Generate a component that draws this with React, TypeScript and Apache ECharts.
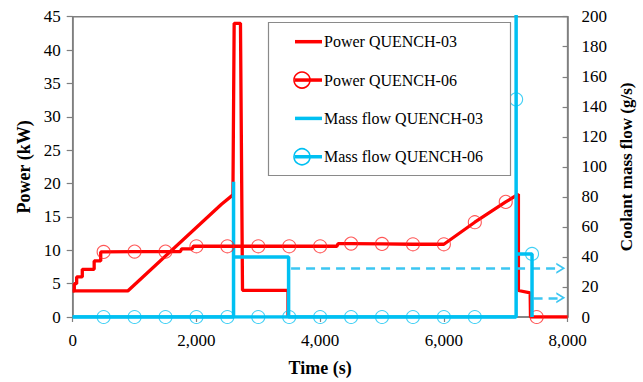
import React, { useEffect, useRef } from 'react';
import * as echarts from 'echarts';

// Series names (legend order)
const seriesNames = ['Power QUENCH-03', 'Power QUENCH-06', 'Mass flow QUENCH-03', 'Mass flow QUENCH-06'];

// Axis ticks
const timeTicks = [0, 2000, 4000, 6000, 8000];
const powerTicks = [0, 5, 10, 15, 20, 25, 30, 35, 40, 45];
const flowTicks = [0, 20, 40, 60, 80, 100, 120, 140, 160, 180, 200];

// [time (s), power (kW)]
const powerQ03: number[][] = [
  [0, 3.9], [890, 3.9], [2405, 16.9], [2590, 18.3], [2610, 44], [2712, 44], [2745, 4.0], [3480, 4.0], [3480, 0],
];

// [time (s), power (kW), marker flag]
const powerQ06: number[][] = [
  [0, 3.9, 0], [26, 3.9, 0], [26, 5.0, 0], [64, 5.0, 0], [64, 6.0, 0], [155, 6.0, 0], [155, 7.15, 0],
  [347, 7.15, 0], [347, 8.4, 0], [453, 8.4, 0], [453, 9.75, 0], [500, 9.75, 1], [1000, 9.8, 1],
  [1500, 9.8, 1], [1740, 9.8, 0], [1760, 10.2, 0], [1930, 10.2, 0], [1950, 10.6, 0], [2000, 10.6, 1],
  [2500, 10.6, 1], [3000, 10.6, 1], [3500, 10.6, 1], [4000, 10.6, 1], [4270, 10.6, 0], [4290, 11.0, 0],
  [4500, 11.0, 1], [5000, 10.95, 1], [5500, 10.9, 1], [6000, 10.9, 1], [6500, 14.2, 1], [7000, 17.25, 1],
  [7205, 18.4, 0], [7205, 3.97, 0], [7395, 3.6, 0], [7400, 0, 0], [7500, 0, 1], [8000, 0, 0],
];

// [time (s), coolant mass flow (g/s)]
const flowQ03: number[][] = [
  [0, 0], [2600, 0], [2600, 90], [2600, 40], [3490, 40], [3490, 0], [7168, 0],
];

// [time (s), coolant mass flow (g/s), marker flag]
const flowQ06: number[][] = [
  [0, 0, 0], [500, 0, 1], [1000, 0, 1], [1500, 0, 1], [2000, 0, 1], [2500, 0, 1], [3000, 0, 1],
  [3500, 0, 1], [4000, 0, 1], [4500, 0, 1], [5000, 0, 1], [5500, 0, 1], [6000, 0, 1], [6500, 0, 1],
  [7168, 0, 0], [7168, 145, 1], [7168, 260, 0], [7168, 42, 0], [7425, 42, 1], [7425, 0, 0],
];

// Dashed arrows (flow axis): [[start], [end]]
const flowArrows: number[][][] = [
  [[3530, 32.5], [7890, 32.5]],
  [[7450, 12.8], [7890, 12.8]],
];

const RED = '#FF0000';
const CYAN = '#00C0F2';
const RED_MARK = 'rgba(255,30,30,0.75)';
const CYAN_MARK = 'rgba(0,192,242,0.75)';
const FONT = '"Liberation Serif", "Times New Roman", serif';
const AXIS_GRAY = '#7f7f7f';

const toData = (arr: number[][]) =>
  arr.map((p) => ({ value: [p[0], p[1]], symbol: p[2] ? 'circle' : 'none' }));

function buildOption() {
  const legendTop = 41.7;
  const legendGap = 38.35;
  const legendGraphics: any[] = [
    {
      type: 'rect',
      shape: { x: 268.5, y: 22.5, width: 242, height: 153 },
      style: { fill: '#fff', stroke: '#8a8a8a', lineWidth: 1.2 },
      z: 100,
    },
  ];
  const legendColors = [RED, RED, CYAN, CYAN];
  const legendMarkColors = [null, RED, null, CYAN];
  seriesNames.forEach((name, i) => {
    const y = legendTop + i * legendGap;
    legendGraphics.push({
      type: 'line',
      shape: { x1: 295, y1: y, x2: 322, y2: y },
      style: { stroke: legendColors[i], lineWidth: 3.5 },
      z: 101,
    });
    if (legendMarkColors[i]) {
      legendGraphics.push({
        type: 'circle',
        shape: { cx: 302, cy: y, r: 8 },
        style: { fill: 'none', stroke: legendMarkColors[i] as string, lineWidth: 1.6 },
        z: 101,
      });
    }
    legendGraphics.push({
      type: 'text',
      x: 324,
      y,
      style: { text: name, font: `16px ${FONT}`, fill: '#000', textVerticalAlign: 'middle', textAlign: 'left' },
      z: 101,
    });
  });

  const axisNameStyle = { fontFamily: FONT, fontWeight: 'bold' as const, color: '#000' };
  const axisLabelStyle = { fontFamily: FONT, fontSize: 17, color: '#000' };

  return {
    animation: false,
    backgroundColor: '#fff',
    grid: {
      left: 72.7,
      right: 70.3,
      top: 16.7,
      bottom: 63.7,
      show: true,
      borderColor: AXIS_GRAY,
      borderWidth: 1.5,
      backgroundColor: 'transparent',
    },
    xAxis: {
      type: 'value',
      min: timeTicks[0],
      max: timeTicks[timeTicks.length - 1],
      interval: timeTicks[1] - timeTicks[0],
      name: 'Time (s)',
      nameLocation: 'middle',
      nameGap: 42,
      nameTextStyle: { ...axisNameStyle, fontSize: 18 },
      axisLine: { show: true, lineStyle: { color: AXIS_GRAY, width: 1.5 } },
      axisTick: { show: true, inside: false, length: 5, lineStyle: { color: AXIS_GRAY, width: 1.2 } },
      axisLabel: {
        ...axisLabelStyle,
        margin: 15,
        formatter: (v: number) => v.toLocaleString('en-US'),
      },
      splitLine: { show: false },
    },
    yAxis: [
      {
        type: 'value',
        position: 'left',
        min: powerTicks[0],
        max: powerTicks[powerTicks.length - 1],
        interval: powerTicks[1] - powerTicks[0],
        name: 'Power (kW)',
        nameLocation: 'middle',
        nameRotate: 90,
        nameGap: 39,
        nameTextStyle: { ...axisNameStyle, fontSize: 18 },
        axisLine: { show: true, lineStyle: { color: AXIS_GRAY, width: 1.5 } },
        axisTick: { show: true, inside: false, length: 6, lineStyle: { color: AXIS_GRAY, width: 1.2 } },
        axisLabel: { ...axisLabelStyle, margin: 12 },
        splitLine: { show: false },
      },
      {
        type: 'value',
        position: 'right',
        min: flowTicks[0],
        max: flowTicks[flowTicks.length - 1],
        interval: flowTicks[1] - flowTicks[0],
        name: 'Coolant mass flow (g/s)',
        nameLocation: 'middle',
        nameRotate: 90,
        nameGap: 49,
        nameTextStyle: { ...axisNameStyle, fontSize: 17 },
        axisLine: { show: true, lineStyle: { color: AXIS_GRAY, width: 1.5 } },
        axisTick: { show: true, inside: true, length: 5, lineStyle: { color: AXIS_GRAY, width: 1.2 } },
        axisLabel: { ...axisLabelStyle, margin: 14 },
        splitLine: { show: false },
      },
    ],
    graphic: legendGraphics,
    series: [
      {
        name: seriesNames[0],
        type: 'line',
        yAxisIndex: 0,
        data: powerQ03,
        showSymbol: false,
        symbol: 'none',
        lineStyle: { color: RED, width: 3.3 },
        itemStyle: { color: RED },
        z: 2,
      },
      {
        name: seriesNames[2],
        type: 'line',
        yAxisIndex: 1,
        data: flowQ03,
        showSymbol: false,
        symbol: 'none',
        lineStyle: { color: CYAN, width: 3.5 },
        itemStyle: { color: CYAN },
        z: 3,
        markLine: {
          silent: true,
          animation: false,
          symbol: ['none', 'path://M0,10 L5,0 L10,10 L8.2,10 L5,3.6 L1.8,10 Z'],
          symbolSize: [11, 9],
          label: { show: false },
          lineStyle: { color: '#3CC6F2', width: 2.6, type: [9, 6] },
          data: flowArrows.map((a) => [{ coord: a[0] }, { coord: a[1] }]),
        },
      },
      {
        name: seriesNames[1],
        type: 'line',
        yAxisIndex: 0,
        data: toData(powerQ06),
        symbol: 'circle',
        symbolSize: 13,
        showSymbol: true,
        showAllSymbol: true,
        lineStyle: { color: RED, width: 3.3 },
        itemStyle: { color: 'rgba(0,0,0,0)', borderColor: RED_MARK, borderWidth: 1.1 },
        z: 4,
      },
      {
        name: seriesNames[3],
        type: 'line',
        yAxisIndex: 1,
        data: toData(flowQ06),
        symbol: 'circle',
        symbolSize: 13,
        showSymbol: true,
        showAllSymbol: true,
        lineStyle: { color: CYAN, width: 3.5 },
        itemStyle: { color: 'rgba(0,0,0,0)', borderColor: CYAN_MARK, borderWidth: 1.1 },
        z: 5,
      },
    ],
  };
}

export default function App() {
  const ref = useRef<HTMLDivElement>(null);
  useEffect(() => {
    if (!ref.current) return;
    const chart = echarts.init(ref.current, null, { renderer: 'svg' });
    chart.setOption(buildOption() as any);
    return () => chart.dispose();
  }, []);
  return (
    <div
      ref={ref}
      style={{ position: 'fixed', left: 0, top: 0, width: 643, height: 382, background: '#fff' }}
    />
  );
}
